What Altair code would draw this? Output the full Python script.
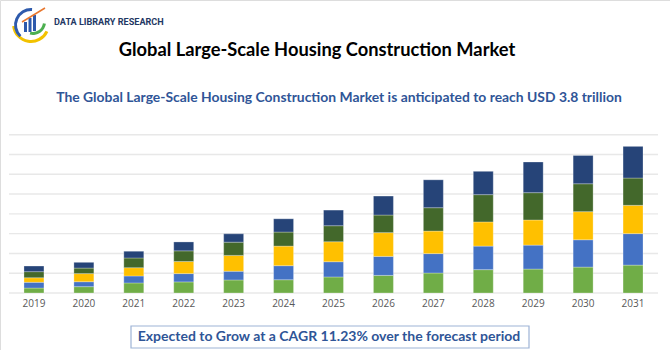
import altair as alt
import pandas as pd

years = [2019, 2020, 2021, 2022, 2023, 2024, 2025, 2026, 2027, 2028, 2029, 2030, 2031]
seg_names = ["Segment 1", "Segment 2", "Segment 3", "Segment 4", "Segment 5"]
seg_colors = ["#70AD47", "#4472C4", "#FFC000", "#43682B", "#264478"]
seg1 = [0.25, 0.32, 0.51, 0.56, 0.66, 0.67, 0.81, 0.89, 1.01, 1.18, 1.21, 1.31, 1.41]
seg2 = [0.29, 0.25, 0.35, 0.42, 0.44, 0.71, 0.77, 0.96, 0.98, 1.19, 1.21, 1.38, 1.59]
seg3 = [0.23, 0.41, 0.42, 0.61, 0.80, 0.99, 1.01, 1.20, 1.14, 1.22, 1.27, 1.42, 1.43]
seg4 = [0.31, 0.28, 0.49, 0.54, 0.67, 0.71, 0.81, 0.89, 1.18, 1.38, 1.38, 1.41, 1.38]
seg5 = [0.28, 0.29, 0.34, 0.45, 0.42, 0.67, 0.79, 0.96, 1.41, 1.18, 1.55, 1.43, 1.60]
grid_values = [0, 1, 2, 3, 4, 5, 6, 7, 8]

title_text = "Global Large-Scale Housing Construction Market"
subtitle_text = "The Global Large-Scale Housing Construction Market is anticipated to reach USD 3.8 trillion"
footer_text = "Expected to Grow at a CAGR 11.23% over the forecast period"
logo_text = "DATA LIBRARY RESEARCH"

rows = []
for i, y in enumerate(years):
    for k, series in enumerate([seg1, seg2, seg3, seg4, seg5]):
        rows.append({"year": str(y), "segment": seg_names[k], "order": k, "value": series[i]})
df = pd.DataFrame(rows)
year_df = pd.DataFrame({"year": [str(y) for y in years]})
grid_df = pd.DataFrame({"g": grid_values})

xscale = alt.Scale(domain=[str(y) for y in years], range=[9, 658], paddingInner=0.6, paddingOuter=0.3)
yscale = alt.Scale(domain=[0, 8], range=[293, 134.7], nice=False, zero=True)

grid = alt.Chart(grid_df).mark_rule(color="#E8E8E8", strokeWidth=1.4).encode(
    y=alt.Y("g:Q", scale=yscale, axis=None),
    x=alt.value(9), x2=alt.value(658),
)

bars = alt.Chart(df).mark_bar(stroke="#FFFFFF", strokeOpacity=0.35, strokeWidth=0.8).encode(
    x=alt.X("year:N", scale=xscale, axis=None, sort=None),
    y=alt.Y("value:Q", scale=yscale, axis=None, stack="zero"),
    color=alt.Color("segment:N", scale=alt.Scale(domain=seg_names, range=seg_colors), legend=None),
    order=alt.Order("order:Q", sort="ascending"),
)

xlabels = alt.Chart(year_df).mark_text(fontSize=10, color="#595959", font="Open Sans", baseline="middle").encode(
    x=alt.X("year:N", scale=xscale, axis=None, sort=None),
    y=alt.value(304),
    text="year:N",
)

def text_layer(txt, x, y, size, color, weight="bold", font="Lato", align="center"):
    return alt.Chart(pd.DataFrame({"t": [txt]})).mark_text(
        fontSize=size, color=color, fontWeight=weight, font=font, align=align, baseline="middle"
    ).encode(x=alt.value(x), y=alt.value(y), text="t:N")

title = text_layer(title_text, 317, 51, 18.3, "#000000")
subtitle = text_layer(subtitle_text, 339, 98, 13.9, "#2F5597")
footer = text_layer(footer_text, 329, 337, 14, "#2F5597")
logo = text_layer(logo_text, 54, 22, 9.1, "#1F3864", font="Roboto", align="left")

box = alt.Chart(pd.DataFrame({"a": [0]})).mark_rect(
    fill="#FFFFFF", stroke="#9DB3D6", strokeWidth=1.2
).encode(x=alt.value(131), x2=alt.value(529), y=alt.value(326), y2=alt.value(348))

one = pd.DataFrame({"a": [0]})
arc_blue = alt.Chart(one).mark_arc(theta=3.9, theta2=6.35, radius=17, radius2=14, color="#2E5AAC").encode(
    x=alt.value(31), y=alt.value(25))
arc_yellow = alt.Chart(one).mark_arc(theta=2.0, theta2=4.6, radius=19, radius2=16, color="#F2C200").encode(
    x=alt.value(31), y=alt.value(24))
arc_green = alt.Chart(one).mark_arc(theta=1.7, theta2=3.4, radius=13, radius2=10, color="#4CAF50").encode(
    x=alt.value(33), y=alt.value(22))
logo_bars = alt.Chart(pd.DataFrame({"a": [0]})).mark_rect(color="#2E5AAC").encode(
    x=alt.value(24), x2=alt.value(27), y=alt.value(22), y2=alt.value(32))
logo_bars2 = alt.Chart(pd.DataFrame({"a": [0]})).mark_rect(color="#2E5AAC").encode(
    x=alt.value(28.5), x2=alt.value(31.5), y=alt.value(18), y2=alt.value(32))
logo_bars3 = alt.Chart(pd.DataFrame({"a": [0]})).mark_rect(color="#2E5AAC").encode(
    x=alt.value(33), x2=alt.value(36), y=alt.value(15), y2=alt.value(31))
arrow = alt.Chart(pd.DataFrame({"a": [0]})).mark_rule(color="#E8772E", strokeWidth=1.5).encode(
    x=alt.value(22), x2=alt.value(45), y=alt.value(22), y2=alt.value(8))

chart = alt.layer(
    grid, bars, xlabels, box, title, subtitle, footer,
    arc_yellow, arc_blue, logo_bars, logo_bars2, logo_bars3, arc_green, arrow, logo
).properties(
    width=670, height=350, padding=0, autosize=alt.AutoSizeParams(type="none")
).configure_view(stroke=None).configure(background="#FFFFFF")

chart.save("out.html", embed_options={"renderer": "svg", "actions": False})
